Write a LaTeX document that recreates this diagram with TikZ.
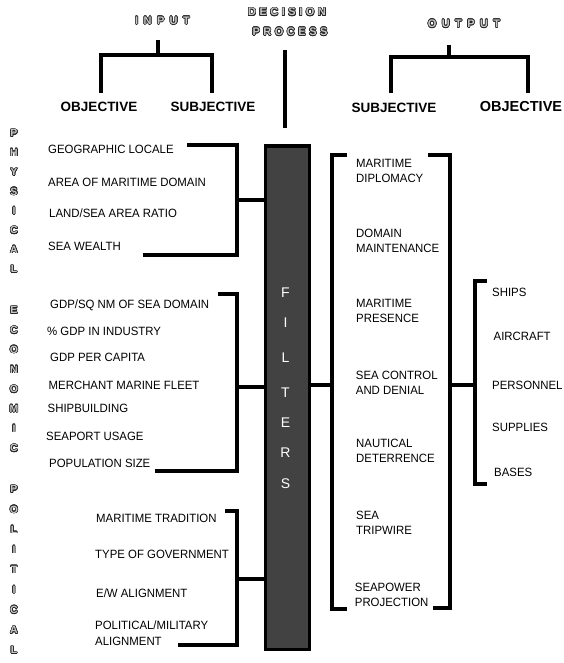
\documentclass[tikz,border=0pt]{standalone}
\usepackage{fontspec}
\setmainfont{Liberation Sans}
\newfontfamily\itemfont[FakeStretch=0.95]{Liberation Sans}
\newfontfamily\wideA[LetterSpace=49]{Liberation Sans}
\newfontfamily\wideB[LetterSpace=32]{Liberation Sans}
\usepackage{contour}
\contourlength{0.6pt}
\newcommand\hollow[1]{\textcolor{black!22}{\contour{black!85}{#1}}}
\begin{document}
\begin{tikzpicture}[x=1pt,y=-1pt,
  item/.style={anchor=west, inner sep=0pt, font=\itemfont\fontsize{12}{15.5}\selectfont, text height=8.6pt, text depth=0pt},
  item2/.style={anchor=north west, inner sep=0pt, align=left, font=\itemfont\fontsize{12}{15.5}\selectfont},
  bar/.style={line width=3.5pt, line join=miter},
  head/.style={inner sep=0pt, font=\bfseries\fontsize{13.5}{15}\selectfont, text height=9.7pt, text depth=0pt},
  hhead/.style={inner sep=0pt, font=\wideA\bfseries\fontsize{11}{13}\selectfont},
  dhead/.style={inner sep=0pt, font=\wideB\bfseries\fontsize{11}{13}\selectfont},
  vword/.style={anchor=north, inner sep=0pt, align=center, font=\bfseries\fontsize{10.5}{#1}\selectfont},
  fletter/.style={inner sep=0pt, text=white, font=\fontsize{14}{15}\selectfont}
]
\useasboundingbox[fill=white] (0,0) rectangle (564,663);

% ---------- top headings ----------
\node[hhead] (input) at (162.5,21) {\hollow{INPUT}};
\node[dhead] (decision) at (287,12.5) {\hollow{DECISION}};
\node[dhead] (process) at (290,32) {\hollow{PROCESS}};
\node[hhead] (output) at (464,24) {\hollow{OUTPUT}};

\node[head] (inobj) at (99,107) {OBJECTIVE};
\node[head] (insubj) at (213,107) {SUBJECTIVE};
\node[head] (outsubj) at (394,108) {SUBJECTIVE};
\node[head, font=\bfseries\fontsize{14.5}{16}\selectfont, text height=10.4pt] (outobj) at (521,106) {OBJECTIVE};

\coordinate (instub) at (158,40);
\coordinate (inL) at (101,55);
\coordinate (inR) at (212,55);
\draw[bar] (instub) -- (instub |- inL);
\draw[bar] (inL |- 0,93) -- (inL) -- (inR) -- (inR |- 0,93);

\coordinate (dtop) at (285,50);
\coordinate (dbot) at (285,128);
\draw[bar] (dtop) -- (dbot);

\coordinate (outstub) at (449,45);
\coordinate (outL) at (391,57);
\coordinate (outR) at (528,57);
\draw[bar] (outstub) -- (outstub |- outL);
\draw[bar] (outL |- 0,93) -- (outL) -- (outR) -- (outR |- 0,93);

% ---------- vertical category words ----------
\node[vword=19.4] (physical) at (14,129.5) {\hollow{P}\\\hollow{H}\\\hollow{Y}\\\hollow{S}\\\hollow{I}\\\hollow{C}\\\hollow{A}\\\hollow{L}};
\node[vword=19.7] (economic) at (14,306.5) {\hollow{E}\\\hollow{C}\\\hollow{O}\\\hollow{N}\\\hollow{O}\\\hollow{M}\\\hollow{I}\\\hollow{C}};
\node[vword=20.1] (political) at (14,485.5) {\hollow{P}\\\hollow{O}\\\hollow{L}\\\hollow{I}\\\hollow{T}\\\hollow{I}\\\hollow{C}\\\hollow{A}\\\hollow{L}};

% ---------- filter box ----------
\node[draw, line width=3.2pt, fill=black!74, minimum width=44pt, minimum height=503pt,
      anchor=north west, inner sep=0pt] (filterbox) at (263.5,144.5) {};
\node[fletter] (fF) at (285.5,293) {F};
\node[fletter] (fI) at (285.5,323) {I};
\node[fletter] (fL) at (285.5,358) {L};
\node[fletter] (fT) at (285.5,393) {T};
\node[fletter] (fE) at (285.5,423) {E};
\node[fletter] (fR) at (285.5,453) {R};
\node[fletter] (fS) at (285.5,484) {S};

% ---------- physical inputs ----------
\node[item] (geo) at (48,149) {GEOGRAPHIC LOCALE};
\node[item] (area) at (48,182) {AREA OF MARITIME DOMAIN};
\node[item] (ratio) at (49,213) {LAND/SEA AREA RATIO};
\node[item] (wealth) at (48,246) {SEA WEALTH};
\coordinate (phT) at (187,145);
\coordinate (phB) at (143,255);
\coordinate (phJ) at (237,200);
\draw[bar] (phT) -- (phT -| phJ) -- (phB -| phJ) -- (phB);
\draw[bar] (phJ) -- (phJ -| filterbox.west);

% ---------- economic inputs ----------
\node[item] (gdpsq) at (50,304) {GDP/SQ NM OF SEA DOMAIN};
\node[item] (gdpind) at (47,331) {\% GDP IN INDUSTRY};
\node[item] (gdpcap) at (50,357) {GDP PER CAPITA};
\node[item] (fleet) at (48.5,385) {MERCHANT MARINE FLEET};
\node[item] (ship) at (47.5,408) {SHIPBUILDING};
\node[item] (port) at (46,436) {SEAPORT USAGE};
\node[item] (pop) at (49,463) {POPULATION SIZE};
\coordinate (ecT) at (218,294);
\coordinate (ecB) at (155,471);
\coordinate (ecJ) at (237,387);
\draw[bar] (ecT) -- (ecT -| ecJ) -- (ecB -| ecJ) -- (ecB);
\draw[bar] (ecJ) -- (ecJ -| filterbox.west);

% ---------- political inputs ----------
\node[item] (trad) at (96,518) {MARITIME TRADITION};
\node[item] (gov) at (95,554) {TYPE OF GOVERNMENT};
\node[item] (ew) at (96,593) {E/W ALIGNMENT};
\node[item2] (polmil) at (95,620.7) {POLITICAL/MILITARY\\ALIGNMENT};
\coordinate (poT) at (225,511);
\coordinate (poB) at (178,645);
\coordinate (poJ) at (237,579);
\draw[bar] (poT) -- (poT -| poJ) -- (poB -| poJ) -- (poB);
\draw[bar] (poJ) -- (poJ -| filterbox.west);

% ---------- subjective outputs ----------
\node[item2] (dipl) at (356,158.7) {MARITIME\\DIPLOMACY};
\node[item2] (maint) at (356,228.7) {DOMAIN\\MAINTENANCE};
\node[item2] (pres) at (356,298.7) {MARITIME\\PRESENCE};
\node[item2] (ctrl) at (355.7,370.7) {SEA CONTROL\\AND DENIAL};
\node[item2] (deter) at (356,438.7) {NAUTICAL\\DETERRENCE};
\node[item2] (trip) at (356,510.7) {SEA\\TRIPWIRE};
\node[item2] (proj) at (354.7,582.7) {SEAPOWER\\PROJECTION};
\coordinate (sLT) at (347,155);
\coordinate (sLB) at (347,609);
\coordinate (sLJ) at (332,385);
\draw[bar] (sLT) -- (sLT -| sLJ) -- (sLB -| sLJ) -- (sLB);
\draw[bar] (sLJ -| filterbox.east) -- (sLJ);
\coordinate (sRT) at (428,155);
\coordinate (sRB) at (433,608);
\coordinate (sRJ) at (450,385);
\draw[bar] (sRT) -- (sRT -| sRJ) -- (sRB -| sRJ) -- (sRB);

% ---------- objective outputs ----------
\node[item] (ships) at (492,292) {SHIPS};
\node[item] (air) at (493.5,336) {AIRCRAFT};
\node[item] (pers) at (492,385) {PERSONNEL};
\node[item] (supp) at (492,427) {SUPPLIES};
\node[item] (bases) at (494,472) {BASES};
\coordinate (oT) at (487,281);
\coordinate (oB) at (487,484);
\coordinate (oJ) at (475,385);
\draw[bar] (oT) -- (oT -| oJ) -- (oB -| oJ) -- (oB);
\draw[bar] (sRJ) -- (oJ);
\end{tikzpicture}
\end{document}
